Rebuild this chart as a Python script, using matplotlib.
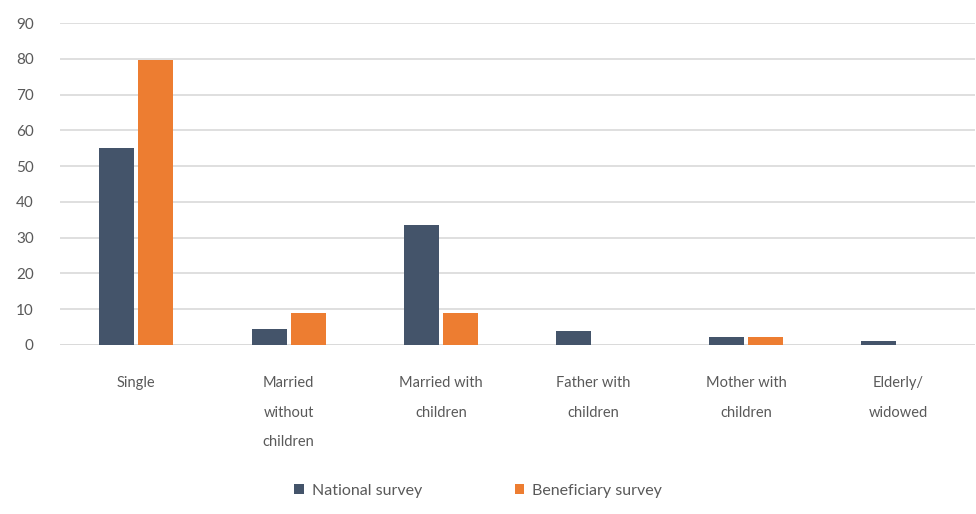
import matplotlib
matplotlib.use("Agg")
import matplotlib.pyplot as plt
import numpy as np

categories = ["Single", "Married\nwithout\nchildren", "Married with\nchildren",
              "Father with\nchildren", "Mother with\nchildren", "Elderly/\nwidowed"]
national = [55.2, 4.6, 33.6, 3.9, 2.3, 1.0]
beneficiary = [79.8, 9.0, 9.0, 0.0, 2.3, 0.0]
series_names = ["National survey", "Beneficiary survey"]
yticks = [0, 10, 20, 30, 40, 50, 60, 70, 80, 90]

plt.rcParams['font.family'] = ['Lato', 'DejaVu Sans']
text_color = "#595959"

fig = plt.figure(figsize=(9.76, 5.14), dpi=100)
ax = fig.add_axes([0.0615, 0.3288, 0.937, 0.6262])

x = np.arange(len(categories))
w = 0.23
gap = 0.027
ax.bar(x - (w + gap) / 2, national, width=w, color="#44546A", label=series_names[0], zorder=3)
ax.bar(x + (w + gap) / 2, beneficiary, width=w, color="#ED7D31", label=series_names[1], zorder=3)

ax.set_xlim(-0.5, len(categories) - 0.5)
ax.set_ylim(0, 90)
ax.set_yticks(yticks)
ax.yaxis.grid(True, color="#D9D9D9", linewidth=1.2, zorder=0)
ax.set_axisbelow(True)
for s in ax.spines.values():
    s.set_visible(False)
ax.axhline(0, color="#D9D9D9", linewidth=1.2, zorder=1)

ax.set_xticks(x)
ax.set_xticklabels(categories, fontsize=10.5, color=text_color, linespacing=2.45, va="top")
ax.tick_params(axis="x", length=0, pad=22)
ax.tick_params(axis="y", length=0, pad=19, labelsize=11, labelcolor=text_color)

fig.legend(loc="center", bbox_to_anchor=(0.49, 0.045), ncol=2, frameon=False,
           fontsize=11.5, labelcolor=text_color, handlelength=0.6, handleheight=0.6,
           handletextpad=0.5, columnspacing=5.8)

fig.savefig("out.png", dpi=100)
